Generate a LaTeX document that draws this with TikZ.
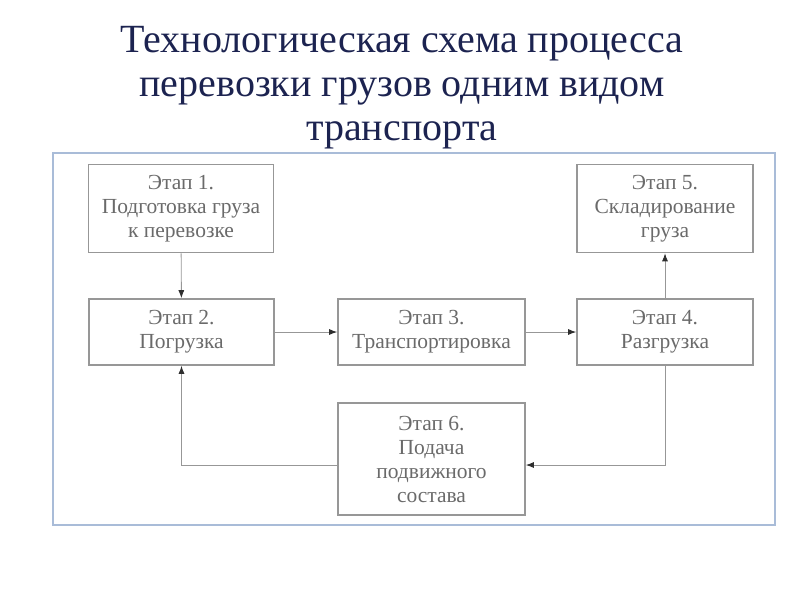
\documentclass[tikz,border=0pt]{standalone}
\usepackage{fontspec}
\setmainfont{Liberation Serif}
\usetikzlibrary{arrows.meta}
\definecolor{titleblue}{HTML}{1C2350}
\definecolor{frameblue}{HTML}{A9BCD8}
\definecolor{boxgray}{HTML}{979797}
\definecolor{textgray}{HTML}{6A6A6A}
\definecolor{tipgray}{HTML}{2E2E2E}
\begin{document}
\begin{tikzpicture}[x=1pt,y=-1pt,
  stagebox/.style={draw=boxgray,line width=1.6pt,text=textgray,align=center,
    inner sep=0pt,font=\fontsize{21.5}{24}\selectfont},
  flow/.style={draw=boxgray,line width=0.9pt,-{Latex[length=8pt,width=6pt,color=tipgray]}}]
  \useasboundingbox (0,0) rectangle (800,600);
  \node[text=titleblue,align=center,font=\fontsize{40}{44}\selectfont] (title) at (402,88)
    {Технологическая схема процесса\\перевозки грузов одним видом\\транспорта};
  \draw[frameblue,line width=1.2pt] (53,153) rectangle (775,525);
  % stages: centre / width / height / text
  \foreach [count=\i] \pos/\w/\h/\txt in {
      {(181,208.5)}/185/88/{Этап 1.\\Подготовка груза\\к перевозке},
      {(181.5,332)}/185/66/{Этап 2.\\Погрузка},
      {(431.5,332)}/187/66/{Этап 3.\\Транспортировка},
      {(665,332)}/176/66/{Этап 4.\\Разгрузка},
      {(665,208.5)}/176/88/{Этап 5.\\Складирование\\груза},
      {(431.5,459)}/187/112/{Этап 6.\\Подача\\подвижного\\состава}} {
    \node[stagebox,minimum width=\w pt,minimum height=\h pt] (s\i) at \pos {\txt};
  }
  \draw[flow] (s1) -- (s2);
  \draw[flow] (s2) -- (s3);
  \draw[flow] (s3) -- (s4);
  \draw[flow] (s4) -- (s5);
  \draw[flow] (s4.south) |- ([yshift=-6pt]s6.east);
  \draw[flow] ([yshift=-6pt]s6.west) -| (s2.south);
\end{tikzpicture}
\end{document}
